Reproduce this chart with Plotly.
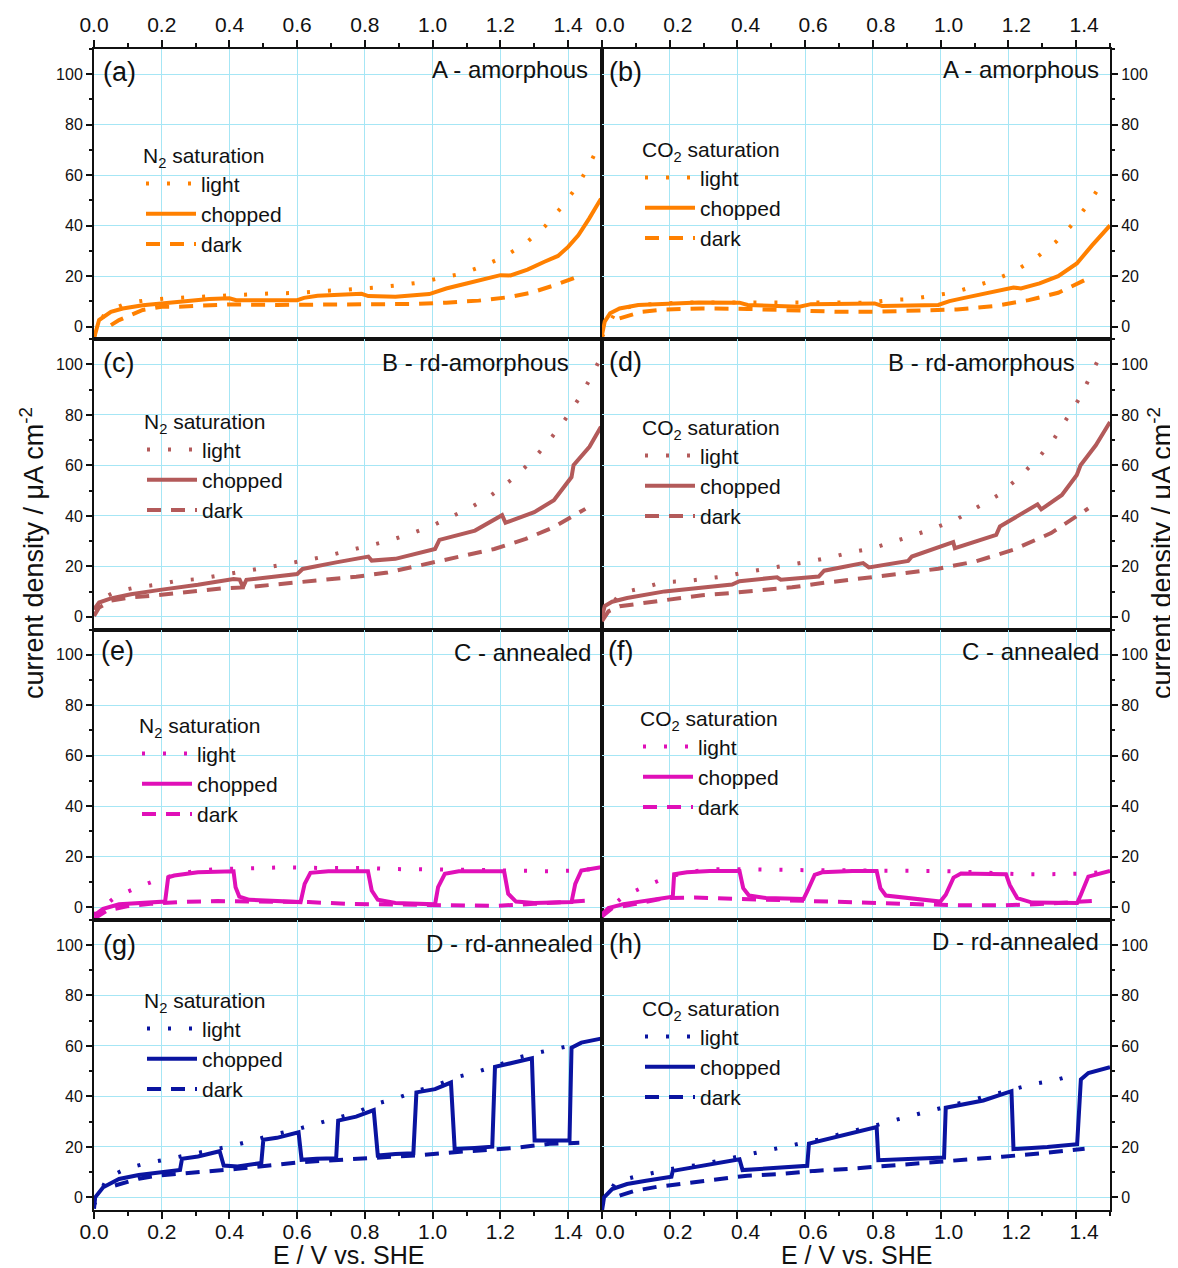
import plotly.graph_objects as go
from plotly.subplots import make_subplots

# ---------------- data (E / V vs. SHE, current density / uA cm^-2) ----------------
# (a) A - amorphous, N2
a_light_x = [0.0, 0.033, 0.095, 0.156, 0.218, 0.28, 0.342, 0.404, 0.466, 0.528, 0.59, 0.651, 0.713, 0.775, 0.838, 0.9, 0.962, 1.024, 1.086, 1.147, 1.209, 1.271, 1.33, 1.381, 1.428, 1.463, 1.493]
a_light_y = [-4.0, 5.7, 9.2, 10.5, 11.2, 11.6, 12.1, 12.5, 12.8, 13.2, 13.3, 13.8, 14.2, 14.7, 15.5, 16.4, 17.5, 19.3, 21.0, 23.9, 27.6, 32.6, 39.5, 47.4, 55.8, 64.2, 72.4]
a_chop_x = [0.0, 0.015, 0.05, 0.085, 0.144, 0.2, 0.25, 0.34, 0.4, 0.42, 0.6, 0.62, 0.66, 0.77, 0.79, 0.81, 0.89, 0.99, 1.01, 1.04, 1.1, 1.17, 1.2, 1.23, 1.28, 1.33, 1.37, 1.4, 1.43, 1.462, 1.497]
a_chop_y = [-4.6, 2.6, 5.9, 7.2, 8.5, 9.2, 10.1, 10.9, 11.2, 10.5, 10.5, 11.4, 12.2, 12.6, 13.0, 12.1, 11.8, 12.9, 13.8, 15.1, 17.1, 19.3, 20.4, 20.3, 22.6, 25.7, 28.0, 31.6, 36.2, 42.8, 50.7]
a_dark_x = [0.05, 0.074, 0.144, 0.2, 0.25, 0.307, 0.4, 0.54, 0.657, 0.8, 0.95, 1.04, 1.136, 1.22, 1.29, 1.36, 1.422]
a_dark_y = [0.6, 2.6, 6.6, 7.9, 7.9, 8.3, 8.8, 8.6, 8.6, 8.6, 9.0, 9.5, 10.3, 11.6, 13.4, 16.4, 19.5]

# (b) A - amorphous, CO2
b_light_x = [0.0, 0.043, 0.105, 0.168, 0.229, 0.291, 0.353, 0.415, 0.476, 0.539, 0.6, 0.661, 0.724, 0.786, 0.849, 0.91, 0.973, 1.034, 1.095, 1.157, 1.22, 1.281, 1.342, 1.395, 1.442, 1.48]
b_light_y = [-4.0, 6.6, 8.6, 9.2, 9.5, 9.6, 9.6, 9.5, 9.5, 9.5, 9.5, 9.5, 9.5, 9.5, 10.5, 10.9, 12.2, 13.4, 15.8, 18.4, 22.0, 27.2, 33.8, 41.4, 49.7, 57.9]
b_chop_x = [0.0, 0.008, 0.024, 0.052, 0.107, 0.185, 0.285, 0.406, 0.43, 0.583, 0.617, 0.805, 0.827, 0.993, 1.026, 1.07, 1.16, 1.215, 1.237, 1.292, 1.347, 1.402, 1.447, 1.5]
b_chop_y = [-3.3, 2.0, 5.3, 7.2, 8.6, 8.9, 9.6, 9.5, 8.6, 7.9, 8.9, 9.2, 8.2, 8.6, 10.1, 11.4, 13.8, 15.5, 15.1, 17.1, 20.0, 25.0, 32.2, 40.1]
b_dark_x = [0.052, 0.118, 0.185, 0.296, 0.43, 0.561, 0.694, 0.805, 0.938, 1.048, 1.16, 1.26, 1.347, 1.425]
b_dark_y = [3.3, 5.9, 6.8, 7.2, 7.0, 6.3, 5.9, 5.9, 6.2, 6.8, 8.2, 10.5, 13.4, 18.4]

# (c) B - rd-amorphous, N2
c_light_x = [0.0, 0.02, 0.062, 0.124, 0.184, 0.245, 0.307, 0.369, 0.432, 0.494, 0.556, 0.618, 0.681, 0.743, 0.804, 0.866, 0.927, 0.989, 1.048, 1.111, 1.174, 1.237, 1.295, 1.344, 1.391, 1.431, 1.466, 1.498]
c_light_y = [3.0, 7.0, 9.9, 11.7, 12.7, 14.3, 15.0, 16.3, 18.0, 19.2, 20.7, 22.3, 23.9, 26.0, 27.9, 30.0, 32.6, 35.5, 39.3, 43.2, 48.3, 54.8, 62.1, 69.8, 78.2, 86.3, 94.6, 103.2]
c_chop_x = [0.0, 0.015, 0.05, 0.109, 0.19, 0.307, 0.412, 0.43, 0.44, 0.45, 0.6, 0.616, 0.715, 0.81, 0.82, 0.89, 1.007, 1.02, 1.125, 1.205, 1.215, 1.3, 1.358, 1.41, 1.416, 1.463, 1.497]
c_chop_y = [3.0, 5.7, 7.3, 9.0, 10.6, 12.7, 15.0, 14.8, 11.8, 14.7, 17.0, 19.0, 21.6, 23.9, 22.3, 23.0, 26.9, 30.5, 34.2, 40.3, 37.3, 41.5, 46.2, 55.4, 60.1, 67.4, 75.3]
c_dark_x = [0.0, 0.015, 0.05, 0.109, 0.19, 0.272, 0.377, 0.447, 0.54, 0.657, 0.774, 0.867, 0.984, 1.077, 1.182, 1.275, 1.357, 1.451]
c_dark_y = [0.4, 3.7, 6.4, 7.7, 8.6, 9.9, 11.3, 11.7, 13.0, 14.6, 15.9, 17.6, 21.0, 23.6, 26.9, 30.9, 35.5, 42.8]

# (d) B - rd-amorphous, CO2
d_light_x = [0.0, 0.055, 0.118, 0.182, 0.244, 0.305, 0.365, 0.429, 0.489, 0.55, 0.615, 0.675, 0.739, 0.8, 0.86, 0.924, 0.986, 1.049, 1.112, 1.171, 1.231, 1.285, 1.334, 1.375, 1.412, 1.443, 1.472]
d_light_y = [0.0, 9.5, 11.4, 13.8, 14.1, 15.1, 16.1, 17.8, 19.1, 20.4, 22.0, 23.6, 25.7, 27.2, 29.6, 32.5, 35.4, 38.8, 43.7, 48.3, 55.3, 62.4, 70.4, 78.9, 87.1, 95.7, 103.8]
d_chop_x = [0.0, 0.008, 0.03, 0.074, 0.185, 0.285, 0.384, 0.406, 0.517, 0.528, 0.64, 0.656, 0.771, 0.788, 0.904, 0.915, 1.037, 1.042, 1.164, 1.175, 1.286, 1.297, 1.358, 1.402, 1.413, 1.458, 1.5]
d_chop_y = [0.0, 4.3, 6.0, 7.5, 10.1, 11.4, 12.8, 14.1, 15.7, 14.7, 16.0, 18.3, 21.3, 19.6, 22.2, 23.9, 29.6, 27.2, 32.5, 35.8, 44.6, 42.6, 48.3, 56.2, 60.1, 68.0, 77.2]
d_dark_x = [0.0, 0.019, 0.052, 0.13, 0.185, 0.296, 0.384, 0.473, 0.561, 0.65, 0.783, 0.883, 0.993, 1.104, 1.215, 1.326, 1.436]
d_dark_y = [-1.7, 2.2, 4.2, 5.5, 6.8, 8.6, 9.5, 10.8, 11.7, 13.4, 15.4, 17.1, 19.1, 22.0, 26.6, 33.2, 43.0]

# (e) C - annealed, N2
e_light_x = [0.0, 0.062, 0.124, 0.187, 0.25, 0.31, 0.373, 0.435, 0.496, 0.558, 0.62, 0.68, 0.745, 0.81, 0.87, 0.93, 0.99, 1.05, 1.115, 1.18, 1.24, 1.3, 1.36, 1.42, 1.49]
e_light_y = [-3.0, 3.9, 7.6, 10.8, 13.2, 14.5, 15.1, 15.5, 15.5, 15.8, 15.5, 15.5, 15.5, 15.5, 15.1, 15.1, 15.1, 15.1, 14.8, 14.6, 14.5, 14.2, 14.2, 14.5, 15.3]
e_chop_x = [0.0, 0.027, 0.074, 0.132, 0.2, 0.21, 0.219, 0.237, 0.307, 0.412, 0.418, 0.429, 0.459, 0.54, 0.61, 0.622, 0.639, 0.692, 0.809, 0.82, 0.838, 0.89, 1.007, 1.016, 1.036, 1.077, 1.211, 1.223, 1.246, 1.299, 1.41, 1.421, 1.439, 1.497]
e_chop_y = [-3.3, -0.7, 1.1, 1.7, 2.2, 2.2, 11.8, 12.5, 13.8, 14.2, 7.9, 4.2, 2.9, 2.4, 2.0, 9.2, 13.6, 14.2, 14.2, 6.6, 2.9, 1.6, 1.1, 7.9, 13.2, 14.2, 14.2, 5.3, 2.2, 1.6, 2.0, 9.2, 14.5, 15.8]
e_dark_x = [0.0, 0.039, 0.097, 0.167, 0.249, 0.365, 0.482, 0.634, 0.75, 0.844, 0.96, 1.089, 1.182, 1.299, 1.462]
e_dark_y = [-4.6, -1.3, 0.3, 1.3, 2.0, 2.4, 2.2, 2.0, 1.3, 1.1, 0.7, 0.4, 0.5, 1.3, 2.6]

# (f) C - annealed, CO2
f_light_x = [0.0, 0.063, 0.126, 0.19, 0.251, 0.312, 0.375, 0.437, 0.498, 0.559, 0.622, 0.683, 0.746, 0.807, 0.869, 0.932, 0.993, 1.056, 1.117, 1.179, 1.242, 1.303, 1.364, 1.428, 1.492]
f_light_y = [-3.0, 4.2, 8.2, 11.7, 13.8, 14.9, 15.1, 14.9, 14.9, 14.9, 14.6, 14.6, 14.6, 14.5, 14.6, 14.5, 14.3, 14.1, 13.7, 13.4, 13.0, 13.0, 13.0, 13.3, 14.1]
f_chop_x = [0.0, 0.019, 0.063, 0.13, 0.202, 0.209, 0.213, 0.251, 0.318, 0.406, 0.417, 0.434, 0.484, 0.595, 0.606, 0.628, 0.65, 0.739, 0.811, 0.822, 0.838, 0.905, 0.999, 1.015, 1.038, 1.06, 1.193, 1.204, 1.226, 1.27, 1.403, 1.414, 1.436, 1.5]
f_chop_y = [-3.0, -0.4, 1.2, 2.5, 3.8, 4.1, 13.0, 13.8, 14.3, 14.3, 7.5, 4.6, 3.6, 3.2, 6.2, 12.8, 13.8, 14.3, 14.3, 7.5, 4.6, 3.6, 2.2, 4.9, 11.7, 13.3, 13.0, 8.8, 3.6, 1.8, 1.6, 4.9, 12.1, 14.3]
f_dark_x = [0.0, 0.03, 0.096, 0.185, 0.274, 0.384, 0.462, 0.573, 0.683, 0.805, 0.916, 1.071, 1.182, 1.292, 1.458]
f_dark_y = [-3.7, -0.4, 1.2, 3.6, 3.8, 3.3, 2.9, 2.5, 2.0, 1.6, 1.2, 0.7, 0.7, 1.2, 2.5]

# (g) D - rd-annealed, N2
g_light_x = [0.0, 0.039, 0.099, 0.161, 0.223, 0.285, 0.345, 0.407, 0.468, 0.53, 0.592, 0.653, 0.714, 0.776, 0.831, 0.893, 0.955, 1.013, 1.075, 1.135, 1.196, 1.252, 1.313, 1.375, 1.427]
g_light_y = [-3.0, 7.8, 11.6, 13.7, 15.3, 17.0, 18.8, 20.4, 22.5, 24.9, 26.7, 29.1, 31.4, 33.7, 37.0, 39.2, 42.2, 44.6, 47.8, 49.9, 52.5, 55.4, 57.4, 59.3, 60.7]
g_chop_x = [0.0, 0.0035, 0.027, 0.074, 0.132, 0.19, 0.254, 0.26, 0.307, 0.371, 0.377, 0.383, 0.424, 0.494, 0.5, 0.54, 0.604, 0.613, 0.657, 0.715, 0.721, 0.774, 0.826, 0.838, 0.89, 0.943, 0.952, 1.007, 1.054, 1.065, 1.124, 1.176, 1.184, 1.24, 1.293, 1.301, 1.357, 1.404, 1.41, 1.439, 1.497]
g_chop_y = [-4.5, 0.0, 4.0, 7.3, 8.9, 10.0, 10.9, 15.3, 16.2, 18.3, 15.9, 12.6, 12.2, 13.6, 22.8, 23.6, 25.8, 14.9, 15.3, 15.5, 30.4, 32.0, 34.6, 16.6, 17.2, 17.5, 41.6, 42.9, 45.5, 19.2, 19.6, 20.1, 51.7, 53.4, 55.1, 22.5, 22.5, 22.5, 59.3, 61.3, 62.9]
g_dark_x = [0.062, 0.132, 0.19, 0.249, 0.342, 0.424, 0.517, 0.61, 0.692, 0.785, 0.879, 0.972, 1.065, 1.159, 1.24, 1.345, 1.433]
g_dark_y = [4.7, 7.4, 8.7, 9.3, 10.4, 11.3, 12.6, 13.9, 14.6, 15.3, 16.2, 16.8, 17.9, 18.9, 19.6, 21.2, 21.6]

# (h) D - rd-annealed, CO2
h_light_x = [0.0, 0.041, 0.102, 0.163, 0.225, 0.287, 0.35, 0.412, 0.473, 0.534, 0.597, 0.658, 0.72, 0.783, 0.844, 0.905, 0.968, 1.03, 1.091, 1.152, 1.215, 1.276, 1.337, 1.398]
h_light_y = [-3.0, 6.3, 8.3, 10.1, 11.8, 12.9, 14.7, 16.2, 18.2, 19.7, 21.4, 23.4, 25.7, 27.6, 29.9, 32.0, 34.2, 36.4, 38.7, 40.8, 42.8, 45.0, 46.4, 48.7]
h_chop_x = [0.0, 0.006, 0.03, 0.074, 0.13, 0.196, 0.205, 0.209, 0.296, 0.406, 0.415, 0.517, 0.606, 0.611, 0.717, 0.811, 0.816, 0.927, 1.01, 1.015, 1.126, 1.209, 1.215, 1.315, 1.403, 1.414, 1.436, 1.5]
h_chop_y = [-5.3, 0.0, 3.3, 5.3, 6.6, 7.9, 8.2, 10.5, 12.5, 15.1, 10.8, 11.6, 12.5, 21.3, 25.0, 27.9, 14.7, 15.4, 15.8, 35.5, 38.4, 42.1, 19.1, 20.0, 21.1, 46.7, 49.3, 51.6]
h_dark_x = [0.052, 0.097, 0.163, 0.24, 0.329, 0.429, 0.517, 0.628, 0.739, 0.85, 0.96, 1.071, 1.182, 1.292, 1.425]
h_dark_y = [0.7, 2.6, 4.2, 5.5, 7.2, 8.6, 9.2, 10.5, 11.4, 12.5, 13.8, 14.9, 16.1, 17.4, 19.3]

panel_letters = ["(a)", "(b)", "(c)", "(d)", "(e)", "(f)", "(g)", "(h)"]
sample_names = ["A - amorphous", "A - amorphous", "B - rd-amorphous", "B - rd-amorphous",
                "C - annealed", "C - annealed", "D - rd-annealed", "D - rd-annealed"]
gas_titles = ["N<sub>2</sub> saturation", "CO<sub>2</sub> saturation"] * 4
series_names = ["light", "chopped", "dark"]
x_ticks = [0.0, 0.2, 0.4, 0.6, 0.8, 1.0, 1.2, 1.4]
y_ticks = [0, 20, 40, 60, 80, 100]
x_title = "E / V vs. SHE"
y_title = "current density / \u03bcA cm<sup>-2</sup>"

# ---------------- styling ----------------
ORANGE = "#FF8000"
BROWN = "#B35A5A"
MAGENTA = "#E010B8"
BLUE = "#0A14A0"
GRID = "#A6E6F5"
FONT = "Arial, Liberation Sans, sans-serif"
TXT = "#111111"

panels = [
    (1, 1, ORANGE, (a_light_x, a_light_y), (a_chop_x, a_chop_y), (a_dark_x, a_dark_y)),
    (1, 2, ORANGE, (b_light_x, b_light_y), (b_chop_x, b_chop_y), (b_dark_x, b_dark_y)),
    (2, 1, BROWN, (c_light_x, c_light_y), (c_chop_x, c_chop_y), (c_dark_x, c_dark_y)),
    (2, 2, BROWN, (d_light_x, d_light_y), (d_chop_x, d_chop_y), (d_dark_x, d_dark_y)),
    (3, 1, MAGENTA, (e_light_x, e_light_y), (e_chop_x, e_chop_y), (e_dark_x, e_dark_y)),
    (3, 2, MAGENTA, (f_light_x, f_light_y), (f_chop_x, f_chop_y), (f_dark_x, f_dark_y)),
    (4, 1, BLUE, (g_light_x, g_light_y), (g_chop_x, g_chop_y), (g_dark_x, g_dark_y)),
    (4, 2, BLUE, (h_light_x, h_light_y), (h_chop_x, h_chop_y), (h_dark_x, h_dark_y)),
]

# page body has an 8px margin: compensate so the plot lands where the reference has it
OFF = 8
W, H = 1178, 1268
SL, ST, SR, SB = 94, 49, 1110, 1210          # plot area in screen pixels
ML, MT = SL - OFF, ST - OFF
PW, PH = SR - SL, SB - ST
MR, MB = W - ML - PW, H - MT - PH


def px(xs, ys):
    return (xs - SL) / PW, (SB - ys) / PH


fig = make_subplots(rows=4, cols=2, horizontal_spacing=0, vertical_spacing=0)

dashes = ["3px,18px", "solid", "14px,10px"]
widths = [4, 4, 4]

for k, (r, c, col, light, chop, dark) in enumerate(panels):
    lg = "legend" if k == 0 else f"legend{k + 1}"
    for name, (xs, ys), dash, wd in zip(series_names, [light, chop, dark], dashes, widths):
        fig.add_trace(go.Scatter(x=xs, y=ys, mode="lines", name=name,
                                 line=dict(color=col, width=wd, dash=dash),
                                 legend=lg, showlegend=True), row=r, col=c)

for r in range(1, 5):
    for c in range(1, 3):
        outer = r in (1, 4)
        fig.update_xaxes(
            row=r, col=c, range=[0, 1.5], tickvals=x_ticks,
            ticktext=[f"{v:.1f}" for v in x_ticks], automargin=False,
            showgrid=True, gridcolor=GRID, gridwidth=1, zeroline=False,
            showline=True, mirror=True, linecolor="#111111", linewidth=2,
            ticks="outside" if outer else "", ticklen=7, tickwidth=1.5, tickcolor="#111111",
            showticklabels=outer, side="top" if r == 1 else "bottom",
            tickfont=dict(family=FONT, size=21, color=TXT),
            ticklabelshift=8 if c == 2 else 0,
            ticklabelstandoff=0 if r == 1 else -5,
            minor=dict(dtick=0.1, ticklen=4, tickwidth=1.5, tickcolor="#111111",
                       ticks="outside" if outer else "", showgrid=False),
        )
        fig.update_yaxes(
            row=r, col=c, range=[-5, 110], tickvals=y_ticks, automargin=False,
            showgrid=True, gridcolor=GRID, gridwidth=1, zeroline=False,
            showline=True, mirror=True, linecolor="#111111", linewidth=2,
            ticks="outside", ticklen=6, tickwidth=1.5, tickcolor="#111111",
            side="left" if c == 1 else "right",
            tickfont=dict(family=FONT, size=16, color=TXT),
            minor=dict(dtick=10, ticklen=3, tickwidth=1.5, tickcolor="#111111",
                       ticks="outside", showgrid=False),
        )

# legends (one per panel), positions in screen pixels
legend_pos = [(141, 136), (640, 130), (142, 402), (640, 408),
              (137, 706), (638, 699), (142, 981), (640, 989)]
for k, (lx, ly) in enumerate(legend_pos):
    key = "legend" if k == 0 else f"legend{k + 1}"
    xx, yy = px(lx, ly)
    fig.update_layout(**{key: dict(
        x=xx, y=yy, xanchor="left", yanchor="top", xref="paper", yref="paper",
        bgcolor="rgba(0,0,0,0)", borderwidth=0,
        font=dict(family=FONT, size=21, color=TXT),
        title=dict(text=gas_titles[k], font=dict(family=FONT, size=21, color=TXT)),
        itemwidth=50, tracegroupgap=0, traceorder="normal",
    )})

annotations = []
letter_pos = [(101, 72), (607, 72), (101, 363), (607, 362), (99, 651), (606, 651), (101, 945), (607, 944)]
name_pos = [(590, 70), (1101, 70), (571, 363), (1077, 362), (593, 652), (1101, 651), (595, 943), (1101, 942)]
for k in range(8):
    lx, ly = px(*letter_pos[k])
    annotations.append(dict(x=lx, y=ly, xref="paper", yref="paper", text=panel_letters[k],
                            showarrow=False, xanchor="left", yanchor="middle",
                            font=dict(family=FONT, size=27, color=TXT)))
    nx, ny = px(*name_pos[k])
    annotations.append(dict(x=nx, y=ny, xref="paper", yref="paper", text=sample_names[k],
                            showarrow=False, xanchor="right", yanchor="middle",
                            font=dict(family=FONT, size=24, color=TXT)))

for xs in (32, 1160):
    tx, ty = px(xs, 553)
    annotations.append(dict(x=tx, y=ty, xref="paper", yref="paper", text=y_title,
                            showarrow=False, textangle=-90, xanchor="center", yanchor="middle",
                            font=dict(family=FONT, size=27, color=TXT)))

for xs in (348, 856):
    tx, ty = px(xs, 1255)
    annotations.append(dict(x=tx, y=ty, xref="paper", yref="paper", text=x_title,
                            showarrow=False, xanchor="center", yanchor="middle",
                            font=dict(family=FONT, size=25, color=TXT)))

fig.update_layout(
    width=W, height=H, margin=dict(l=ML, r=MR, t=MT, b=MB, pad=0, autoexpand=False),
    paper_bgcolor="white", plot_bgcolor="white",
    font=dict(family=FONT, color=TXT),
    annotations=annotations,
)

fig.write_html("out.html")
